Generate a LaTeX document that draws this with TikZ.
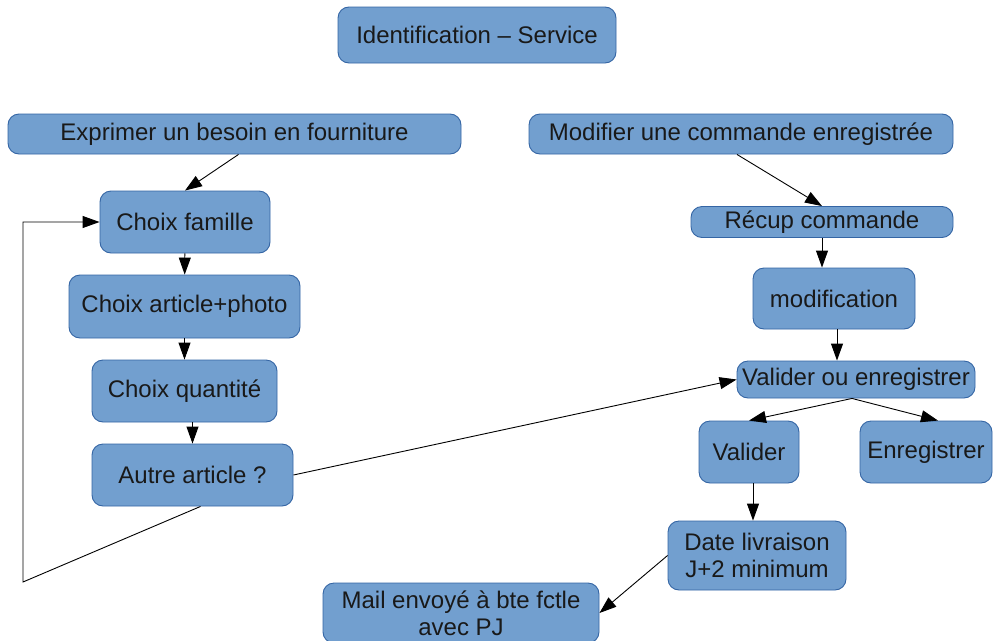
\documentclass[tikz,border=0pt]{standalone}
\usepackage{fontspec}
\setmainfont{Liberation Sans}
\usetikzlibrary{arrows.meta}
\definecolor{boxfill}{HTML}{729FCF}
\definecolor{boxline}{HTML}{3465A4}
\tikzset{
  box/.style={draw=boxline, fill=boxfill, rounded corners=11pt, inner sep=0pt,
    align=center, font=\fontsize{24}{27}\selectfont, text=black!90},
  >={Triangle[length=17pt,width=12pt]},
  every path/.append style={line width=0.9pt}
}
\begin{document}
\begin{tikzpicture}[x=1pt,y=-1pt]
\useasboundingbox (0,0) rectangle (993,640);
\node[box, minimum width=278pt, minimum height=56pt] (id) at (477,35) {Identification -- Service};
\node[box, minimum width=453pt, minimum height=40pt] (ex) at (234.5,134) {Exprimer un besoin en fourniture};
\node[box, minimum width=424pt, minimum height=40pt] (mo) at (741,134) {Modifier une commande enregistrée};
\node[box, minimum width=170pt, minimum height=62pt] (fam) at (185,222) {Choix famille};
\node[box, minimum width=231pt, minimum height=63pt] (art) at (184.5,306.5) {Choix article+photo};
\node[box, minimum width=185pt, minimum height=62pt] (qte) at (184.5,391) {Choix quantité};
\node[box, minimum width=201pt, minimum height=62pt] (autre) at (192.5,475) {Autre article ?};
\node[box, minimum width=262pt, minimum height=31pt] (recup) at (822,222) {Récup commande};
\node[box, minimum width=162pt, minimum height=61pt] (modif) at (834,298.5) {modification};
\node[box, minimum width=238pt, minimum height=37pt] (vo) at (856,379.5) {Valider ou enregistrer};
\node[box, minimum width=100pt, minimum height=62pt] (val) at (749,452) {Valider};
\node[box, minimum width=132pt, minimum height=62pt] (enr) at (926,452) {Enregistrer};
\node[box, minimum width=178pt, minimum height=69pt] (date) at (757,555.5) {Date livraison\\J+2 minimum};
\node[box, minimum width=276pt, minimum height=60pt] (mail) at (461,613) {Mail envoyé à bte fctle\\avec PJ};
\coordinate (lp) at (23,582);
\draw[->] ([xshift=4pt]ex.south) -- (fam.north);
\draw[->] (fam) -- (art);
\draw[->] (art) -- (qte);
\draw[->] (autre.north |- qte.south) -- (autre.north);
\draw[->] ([xshift=8pt]autre.south) -- (lp) |- (fam.west);
\draw[->] (autre.east) -- (vo.west);
\draw[->] ([xshift=-4pt]mo.south) -- (recup.north);
\draw[->] (recup.south) -- (recup.south |- modif.north);
\draw[->] ([xshift=3pt]modif.south) -- ([xshift=3pt]modif.south |- vo.north);
\draw[->] ([xshift=-4pt]vo.south) -- (val.north);
\draw[->] ([xshift=-4pt]vo.south) -- ([xshift=12pt]enr.north);
\draw[->] ([xshift=4pt]val.south) -- ([xshift=4pt]val.south |- date.north);
\draw[->] (date.west) -- (mail.east);
\end{tikzpicture}
\end{document}
